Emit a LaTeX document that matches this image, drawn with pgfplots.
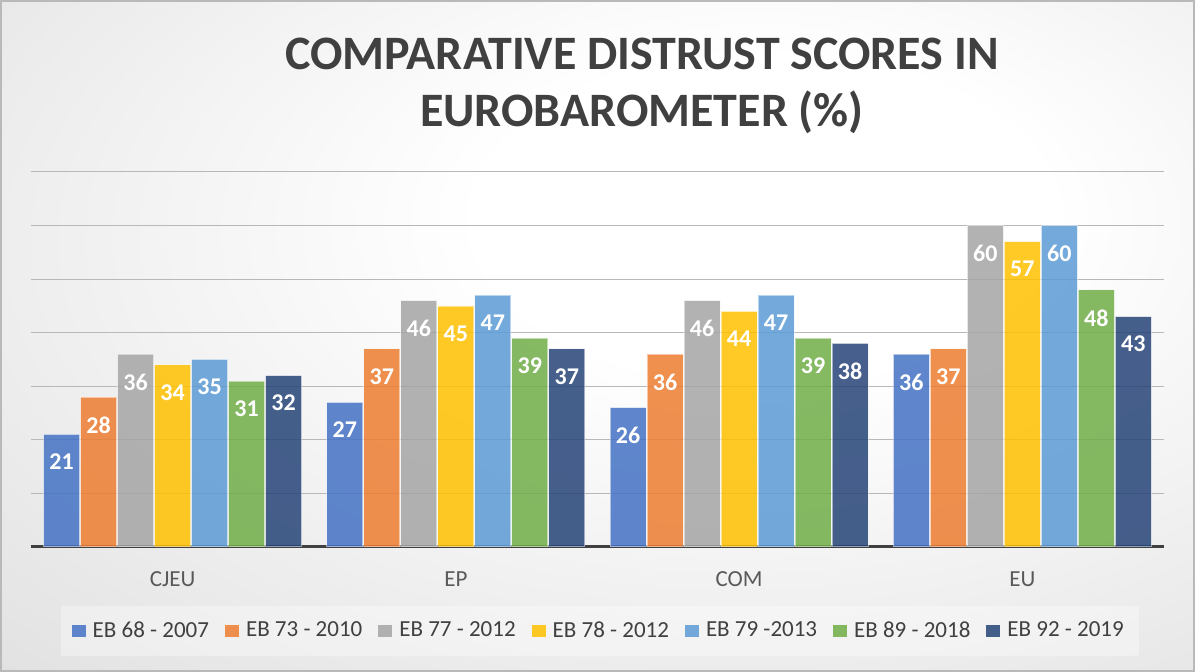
\documentclass[border=0pt]{standalone}
\usepackage{fontspec}
\setmainfont{Carlito}
\usepackage{pgfplots}
\pgfplotsset{compat=1.18}

\definecolor{ebA}{HTML}{4472C4}
\definecolor{ebB}{HTML}{ED7D31}
\definecolor{ebC}{HTML}{A5A5A5}
\definecolor{ebD}{HTML}{FFC000}
\definecolor{ebE}{HTML}{5B9BD5}
\definecolor{ebF}{HTML}{70AD47}
\definecolor{ebG}{HTML}{264478}
\definecolor{titlegray}{HTML}{404040}
\definecolor{ticktext}{HTML}{595959}
\definecolor{gridgray}{HTML}{B8B8B8}
\definecolor{bgedge}{HTML}{C6C6C6}

\pgfdeclareradialshading{bgshade}{\pgfpoint{8bp}{10bp}}{%
  color(0bp)=(white); color(12bp)=(white); color(72bp)=(bgedge); color(100bp)=(bgedge)}

\pgfplotsset{
  ebbar/.style={fill=#1, fill opacity=0.85, draw=white, draw opacity=0.5, line width=0.6pt},
}

\begin{document}
\begin{tikzpicture}
\useasboundingbox (0,0) rectangle (597.5pt,336pt);
\shade[shading=bgshade] (0,0) rectangle (597.5pt,336pt);
\draw[gray!55, line width=0.8pt] (0.4pt,0.4pt) rectangle (597.1pt,335.6pt);

% title, two lines
\node[anchor=base, font=\fontsize{24}{28}\selectfont\bfseries, text=titlegray]
  at (321pt,301pt) {COMPARATIVE DISTRUST SCORES IN};
\node[anchor=base, font=\fontsize{24}{28}\selectfont\bfseries, text=titlegray]
  at (321pt,272.5pt) {EUROBAROMETER (\%)};

\begin{axis}[
  at={(15.5pt,62.5pt)}, anchor=south west,
  scale only axis, width=566.5pt, height=187.5pt,
  xmin=-0.5, xmax=3.5, ymin=0, ymax=70,
  ybar=0.5pt, bar width=18pt,
  axis x line*=bottom, axis y line*=left,
  x axis line style={line width=1.5pt, color=titlegray, -},
  y axis line style={draw=none},
  xtick={0,1,2,3}, xticklabels={CJEU,EP,COM,EU},
  major tick length=0pt,
  xticklabel style={font=\fontsize{11.5}{13}\selectfont, text=ticktext, yshift=-8.7pt},
  ytick={10,20,...,70}, yticklabels={},
  ymajorgrids, major grid style={line width=0.5pt, draw=gridgray},
  /pgf/number format/assume math mode=true,
  nodes near coords,
  every node near coord/.append style={anchor=north, yshift=-9.5pt, inner sep=0pt,
    font=\fontsize{12}{14}\selectfont\bfseries, text=white, text opacity=1},
  legend columns=7,
  legend style={at={(0.502,-0.224)}, anchor=center,
    draw=none, fill=white, fill opacity=0.35, text opacity=1,
    font=\fontsize{11.5}{13}\selectfont, text=titlegray,
    inner xsep=5.5pt, inner ysep=6pt,
    /tikz/every odd column/.append style={column sep=1.5pt},
    /tikz/every even column/.append style={column sep=6pt}},
  legend image code/.code={\fill[#1, draw=none] (-0.5pt,-3.1pt) rectangle (6.5pt,3.1pt);},
]
\addplot[ebbar=ebA] coordinates {(0,21)(1,27)(2,26)(3,36)};
\addlegendentry{EB 68 - 2007}
\addplot[ebbar=ebB] coordinates {(0,28)(1,37)(2,36)(3,37)};
\addlegendentry{EB 73 - 2010}
\addplot[ebbar=ebC] coordinates {(0,36)(1,46)(2,46)(3,60)};
\addlegendentry{EB 77 - 2012}
\addplot[ebbar=ebD] coordinates {(0,34)(1,45)(2,44)(3,57)};
\addlegendentry{EB 78 - 2012}
\addplot[ebbar=ebE] coordinates {(0,35)(1,47)(2,47)(3,60)};
\addlegendentry{EB 79 -2013}
\addplot[ebbar=ebF] coordinates {(0,31)(1,39)(2,39)(3,48)};
\addlegendentry{EB 89 - 2018}
\addplot[ebbar=ebG] coordinates {(0,32)(1,37)(2,38)(3,43)};
\addlegendentry{EB 92 - 2019}
\end{axis}
\end{tikzpicture}
\end{document}
